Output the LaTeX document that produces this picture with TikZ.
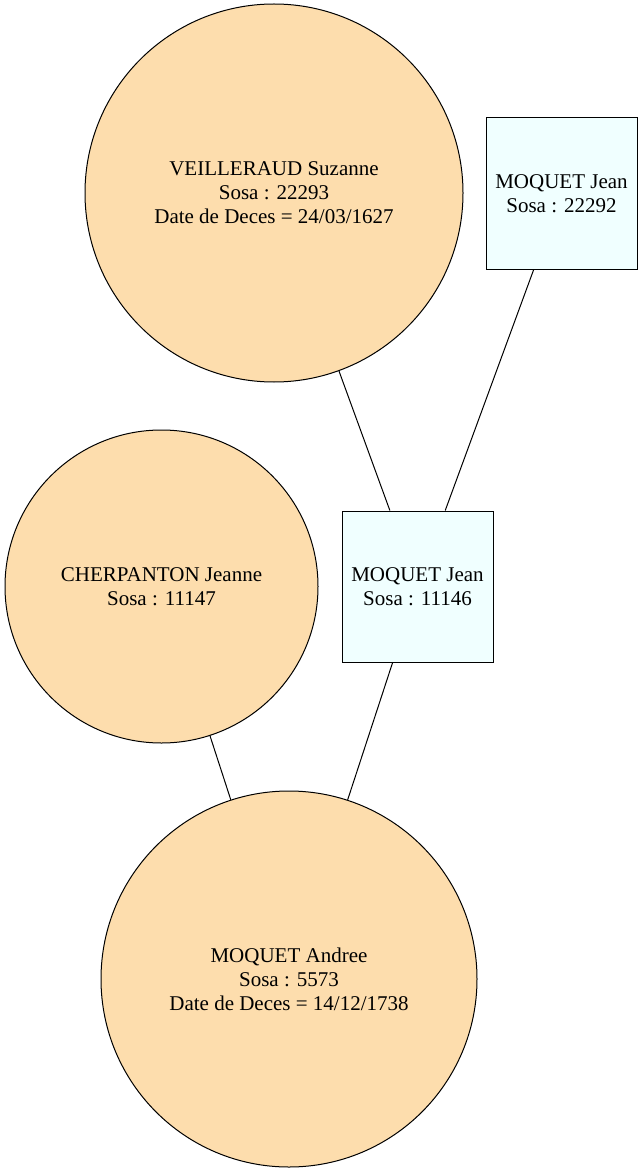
\documentclass[tikz,border=0pt]{standalone}
\usepackage{fontspec}
\setmainfont{Liberation Serif}
\begin{document}
\begin{tikzpicture}[x=1pt,y=-1pt,
  person/.style={circle,draw=black,line width=1pt,fill=circfill,inner sep=0pt,align=center,font=\fontsize{21}{24}\selectfont},
  man/.style={rectangle,draw=black,line width=1pt,fill=boxfill,inner sep=0pt,minimum size=151pt,align=center,font=\fontsize{21}{24}\selectfont},
  link/.style={draw=black,line width=1pt}]
\definecolor{circfill}{HTML}{FDDDAD}
\definecolor{boxfill}{HTML}{F0FFFF}
\useasboundingbox (0,0) rectangle (643,1174);
\node[person,minimum size=378pt] (veil) at (274,193) {VEILLERAUD Suzanne\\Sosa : 22293\\Date de Deces = 24/03/1627};
\node[man] (jean2) at (561.5,193.5) {MOQUET Jean\\Sosa : 22292};
\node[person,minimum size=313pt] (cher) at (161.5,586.5) {CHERPANTON Jeanne\\Sosa : 11147};
\node[man] (jean1) at (417.5,586.5) {MOQUET Jean\\Sosa : 11146};
\node[person,minimum size=376pt] (andree) at (289,979) {MOQUET Andree\\Sosa : 5573\\Date de Deces = 14/12/1738};
\draw[link] (veil) -- (jean1);
\draw[link] (jean2) -- (jean1);
\draw[link] (cher) -- (andree);
\draw[link] (jean1) -- (andree);
\end{tikzpicture}
\end{document}
